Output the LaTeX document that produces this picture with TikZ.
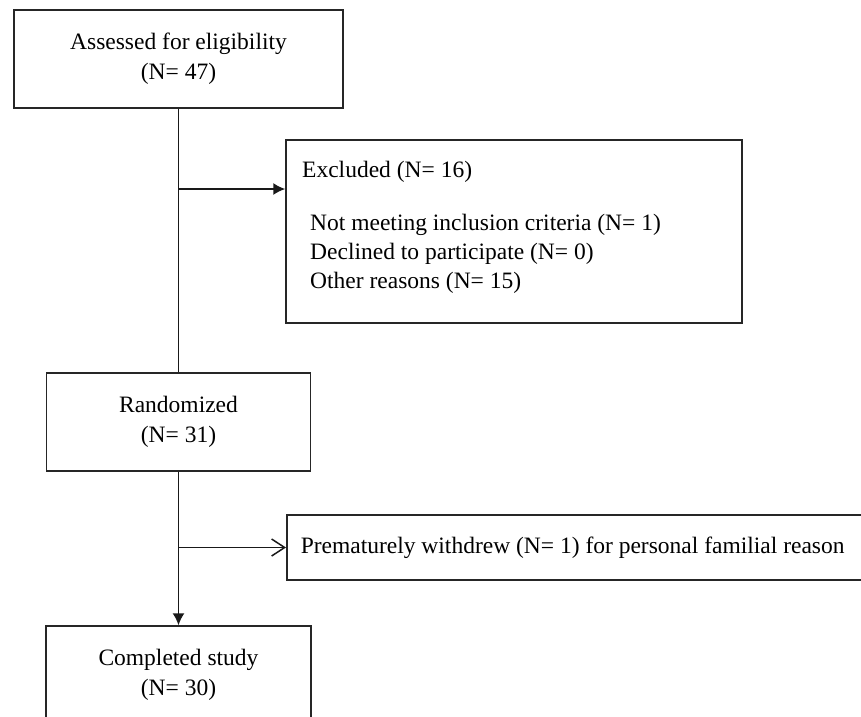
\documentclass[tikz,border=0pt]{standalone}
\usepackage{fontspec}
\setmainfont{Liberation Serif}
\usetikzlibrary{arrows.meta}
\begin{document}
\begin{tikzpicture}[x=1pt,y=-1pt,
  box/.style={draw=black!85,line width=1.5pt,rectangle,inner sep=0pt,align=center,font=\fontsize{23.5}{30}\selectfont},
  txt/.style={inner sep=0pt,anchor=west,font=\fontsize{23.5}{30}\selectfont},
  conn/.style={draw=black!90,line width=1.5pt}]
\useasboundingbox (0,0) rectangle (861,716);
\node[box,minimum width=329pt,minimum height=98pt] (assess) at (178.5,59) {Assessed for eligibility\\(N= 47)};
\node[box,minimum width=456pt,minimum height=183pt] (excl) at (514,231.5) {};
\node[txt] (exct) at (302,172) {Excluded (N= 16)};
\node[txt] (exc1) at (310,225) {Not meeting inclusion criteria (N= 1)};
\node[txt] (exc2) at (310,254) {Declined to participate (N= 0)};
\node[txt] (exc3) at (310,283) {Other reasons (N= 15)};
\node[box,minimum width=264pt,minimum height=98pt] (rand) at (178.5,422) {Randomized\\(N= 31)};
\node[box,anchor=west,minimum height=65pt,text width=560pt,inner xsep=14pt,align=flush left] (wd) at (286,547.5) {Prematurely withdrew (N= 1) for personal familial reason};
\node[box,minimum width=265pt,minimum height=98pt] (comp) at (178.5,675) {Completed study\\(N= 30)};
\coordinate (j1) at (178.5,189);
\coordinate (j2) at (178.5,547.5);
\draw[conn] (assess.south) -- (rand.north);
\draw[conn,-{Latex[length=12pt,width=12pt]}] (j1) -- (excl.west |- j1);
\draw[conn,-{Straight Barb[length=13pt,width=17pt,line width=1.5pt]}] (j2) -- (wd.west |- j2);
\draw[conn,-{Latex[length=12pt,width=12pt]}] (rand.south) -- (comp.north);
\end{tikzpicture}
\end{document}
